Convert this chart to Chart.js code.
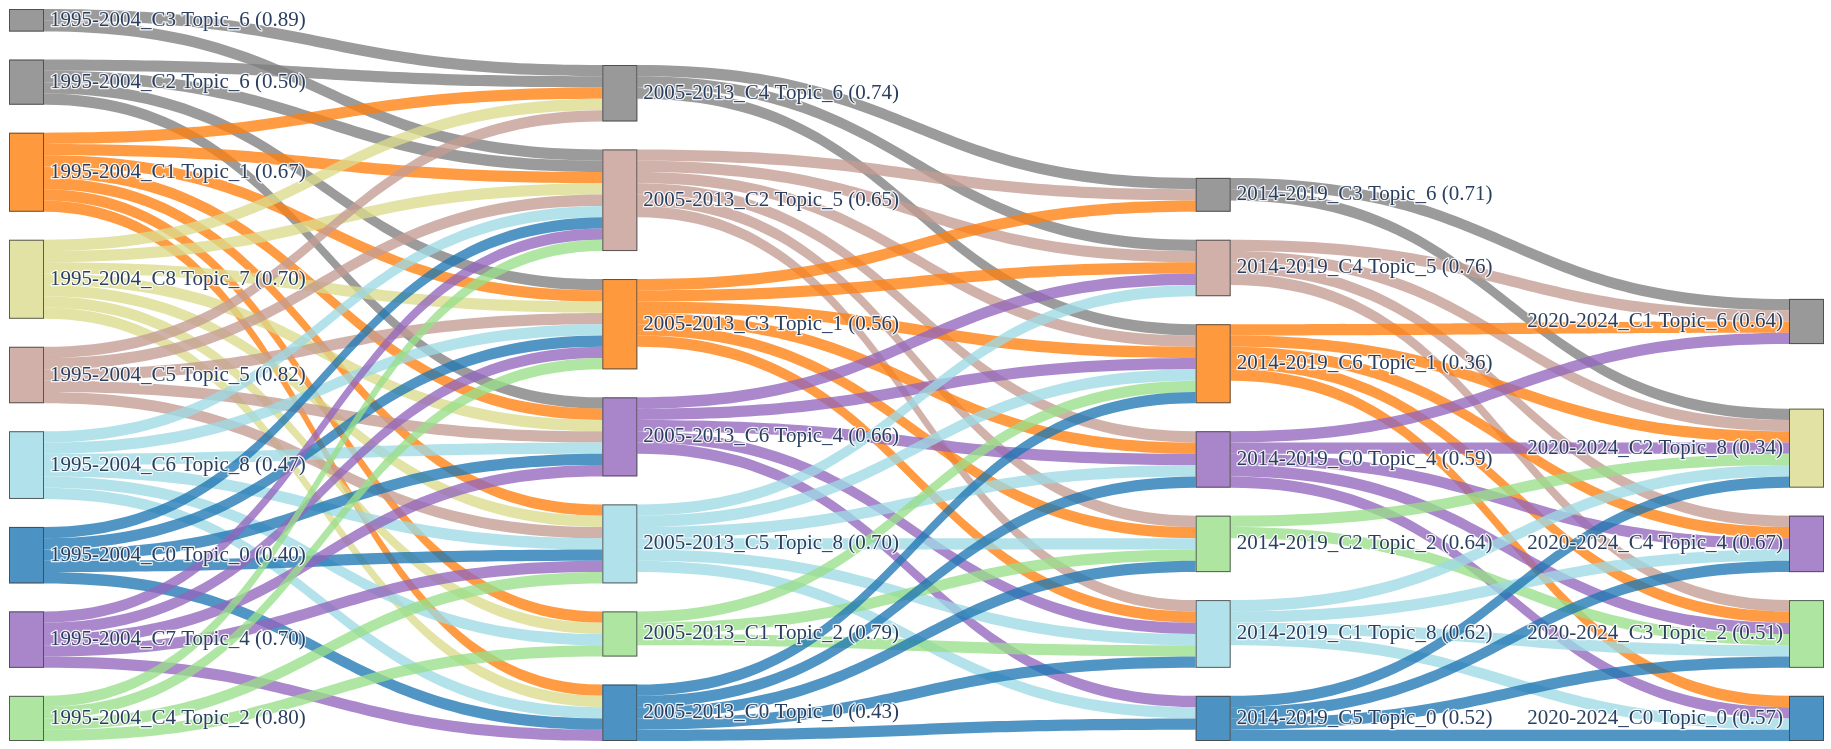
<!DOCTYPE html>
<html>
<head>
<meta charset="utf-8">
<title>Topic flow</title>
<script src="https://cdn.jsdelivr.net/npm/chart.js@4.4.1/dist/chart.umd.min.js"></script>
<style>
  html, body { margin: 0; padding: 0; background: #fff; }
  #wrap { width: 1831px; height: 749px; position: relative; }
</style>
</head>
<body>
<div id="wrap"><canvas id="sankey"></canvas></div>
<script>
// Periods (columns) and the clusters in each, top to bottom
const periods = ["1995-2004", "2005-2013", "2014-2019", "2020-2024"];
const clusters = [
  ["C3", "C2", "C1", "C8", "C5", "C6", "C0", "C7", "C4"],
  ["C4", "C2", "C3", "C6", "C5", "C1", "C0"],
  ["C3", "C4", "C6", "C0", "C2", "C1", "C5"],
  ["C1", "C2", "C4", "C3", "C0"],
];
const topics = [
  [6, 6, 1, 7, 5, 8, 0, 4, 2],
  [6, 5, 1, 4, 8, 2, 0],
  [6, 5, 1, 4, 2, 8, 0],
  [6, 8, 4, 2, 0],
];
const scores = [
  [0.89, 0.50, 0.67, 0.70, 0.82, 0.47, 0.40, 0.70, 0.80],
  [0.74, 0.65, 0.56, 0.66, 0.70, 0.79, 0.43],
  [0.71, 0.76, 0.36, 0.59, 0.64, 0.62, 0.52],
  [0.64, 0.34, 0.67, 0.51, 0.57],
];

// Links: [source cluster, target cluster, value]
const links1 = [ // 1995-2004 -> 2005-2013
  ["C3", "C4", 1], ["C3", "C2", 1],
  ["C2", "C4", 1], ["C2", "C2", 1], ["C2", "C3", 1], ["C2", "C6", 1],
  ["C1", "C4", 1], ["C1", "C2", 1], ["C1", "C3", 1], ["C1", "C6", 1], ["C1", "C5", 1], ["C1", "C1", 1], ["C1", "C0", 1],
  ["C8", "C4", 1], ["C8", "C2", 1], ["C8", "C3", 1], ["C8", "C6", 1], ["C8", "C5", 1], ["C8", "C1", 1], ["C8", "C0", 1],
  ["C5", "C4", 1], ["C5", "C2", 1], ["C5", "C3", 1], ["C5", "C6", 1], ["C5", "C5", 1],
  ["C6", "C2", 1], ["C6", "C3", 1], ["C6", "C6", 1], ["C6", "C5", 1], ["C6", "C1", 1], ["C6", "C0", 1],
  ["C0", "C2", 1], ["C0", "C3", 1], ["C0", "C6", 1], ["C0", "C5", 1], ["C0", "C0", 1],
  ["C7", "C2", 1], ["C7", "C3", 1], ["C7", "C6", 1], ["C7", "C5", 1], ["C7", "C0", 1],
  ["C4", "C2", 1], ["C4", "C3", 1], ["C4", "C5", 1], ["C4", "C1", 1],
];
const links2 = [ // 2005-2013 -> 2014-2019
  ["C4", "C3", 1], ["C4", "C4", 1], ["C4", "C6", 1],
  ["C2", "C3", 1], ["C2", "C4", 1], ["C2", "C6", 1], ["C2", "C0", 1], ["C2", "C2", 1], ["C2", "C1", 1],
  ["C3", "C3", 1], ["C3", "C4", 1], ["C3", "C6", 1], ["C3", "C0", 1], ["C3", "C2", 1], ["C3", "C1", 1],
  ["C6", "C4", 1], ["C6", "C6", 1], ["C6", "C0", 1], ["C6", "C1", 1], ["C6", "C5", 1],
  ["C5", "C4", 1], ["C5", "C6", 1], ["C5", "C0", 1], ["C5", "C2", 1], ["C5", "C1", 1], ["C5", "C5", 1],
  ["C1", "C6", 1], ["C1", "C2", 1], ["C1", "C1", 1],
  ["C0", "C6", 1], ["C0", "C0", 1], ["C0", "C2", 1], ["C0", "C1", 1], ["C0", "C5", 1],
];
const links3 = [ // 2014-2019 -> 2020-2024
  ["C3", "C1", 1], ["C3", "C2", 1],
  ["C4", "C1", 1], ["C4", "C2", 1], ["C4", "C4", 1], ["C4", "C3", 1],
  ["C6", "C1", 1], ["C6", "C2", 1], ["C6", "C4", 1], ["C6", "C3", 1], ["C6", "C0", 1],
  ["C0", "C1", 1], ["C0", "C2", 1], ["C0", "C4", 1], ["C0", "C3", 1], ["C0", "C0", 1],
  ["C2", "C2", 1], ["C2", "C3", 1],
  ["C1", "C2", 1], ["C1", "C4", 1], ["C1", "C3", 1], ["C1", "C0", 1],
  ["C5", "C2", 1], ["C5", "C4", 1], ["C5", "C3", 1], ["C5", "C0", 1],
];
const stageLinks = [links1, links2, links3];

// Styles
const palette = {
  gray: "127,127,127", orange: "255,127,14", khaki: "219,219,141", pink: "196,156,148",
  lightblue: "158,218,229", blue: "31,119,180", purple: "148,103,189", green: "152,223,138",
};
const nodeColors = [
  ["gray", "gray", "orange", "khaki", "pink", "lightblue", "blue", "purple", "green"],
  ["gray", "pink", "orange", "purple", "lightblue", "green", "blue"],
  ["gray", "pink", "orange", "purple", "green", "lightblue", "blue"],
  ["gray", "khaki", "purple", "green", "blue"],
];
const NODE_WIDTH = 35;   // px
const NODE_PAD = 2.48;   // gap between nodes, in flow units
const ITERATIONS = 32;
const FONT = '21px "Liberation Serif", "Times New Roman", serif';

function sum(arr, f) {
  return arr.reduce((s, d) => s + f(d), 0);
}

// Build nodes and links
function buildGraph() {
  const byCol = periods.map((p, c) =>
    clusters[c].map((cl, i) => ({
      col: c,
      idx: i,
      key: cl,
      label: p + "_" + cl + " Topic_" + topics[c][i] + " (" + scores[c][i].toFixed(2) + ")",
      rgb: palette[nodeColors[c][i]],
      inL: [],
      outL: [],
    }))
  );
  const links = [];
  stageLinks.forEach((list, s) => {
    list.forEach(([a, b, v]) => {
      const src = byCol[s].find((n) => n.key === a);
      const tgt = byCol[s + 1].find((n) => n.key === b);
      const l = { src: src, tgt: tgt, value: v };
      src.outL.push(l);
      tgt.inL.push(l);
      links.push(l);
    });
  });
  byCol.forEach((col) =>
    col.forEach((n) => {
      n.value = Math.max(sum(n.inL, (l) => l.value), sum(n.outL, (l) => l.value));
    })
  );
  return { byCol: byCol, links: links };
}

// d3-sankey style relaxation, keeping the given node order
function layoutGraph(g) {
  const cols = g.byCol;
  const extent = Math.max(...cols.map((c) => sum(c, (n) => n.value) + (c.length - 1) * NODE_PAD));
  const center = (n) => (n.y0 + n.y1) / 2;

  // push overlapping nodes down, then back up from the bottom edge
  function resolve(nodes) {
    let y = 0;
    nodes.forEach((n) => {
      const dy = y - n.y0;
      if (dy > 0) { n.y0 += dy; n.y1 += dy; }
      y = n.y1 + NODE_PAD;
    });
    let dy = y - NODE_PAD - extent;
    if (dy > 0) {
      const last = nodes[nodes.length - 1];
      last.y0 -= dy; last.y1 -= dy;
      y = last.y0;
      for (let i = nodes.length - 2; i >= 0; i--) {
        const n = nodes[i];
        dy = n.y1 + NODE_PAD - y;
        if (dy > 0) { n.y0 -= dy; n.y1 -= dy; }
        y = n.y0;
      }
    }
  }
  function relaxLeftToRight(alpha) {
    for (let c = 1; c < cols.length; c++) {
      cols[c].forEach((n) => {
        const y = sum(n.inL, (l) => center(l.src) * l.value) / sum(n.inL, (l) => l.value);
        const d = (y - center(n)) * alpha;
        n.y0 += d; n.y1 += d;
      });
      resolve(cols[c]);
    }
  }
  function relaxRightToLeft(alpha) {
    for (let c = cols.length - 2; c >= 0; c--) {
      cols[c].forEach((n) => {
        const y = sum(n.outL, (l) => center(l.tgt) * l.value) / sum(n.outL, (l) => l.value);
        const d = (y - center(n)) * alpha;
        n.y0 += d; n.y1 += d;
      });
      resolve(cols[c]);
    }
  }

  cols.forEach((nodes) => {
    nodes.forEach((n, i) => { n.y0 = i; n.y1 = i + n.value; });
    resolve(nodes);
  });
  let alpha = 1;
  for (let k = 0; k < ITERATIONS; k++) {
    alpha *= 0.99;
    relaxRightToLeft(alpha);
    relaxLeftToRight(alpha);
  }

  // link offsets inside each node, ordered by the other end
  cols.forEach((nodes) =>
    nodes.forEach((n) => {
      n.outL.sort((a, b) => a.tgt.y0 - b.tgt.y0);
      n.inL.sort((a, b) => a.src.y0 - b.src.y0);
      let sy = n.y0;
      n.outL.forEach((l) => { l.sy = sy; sy += l.value; });
      let ty = n.y0;
      n.inL.forEach((l) => { l.ty = ty; ty += l.value; });
    })
  );
  return extent;
}

const graph = buildGraph();
const yExtent = layoutGraph(graph);

// Plugin that draws links, nodes and labels through the chart scales
const sankeyPlugin = {
  id: "sankey",
  afterDatasetsDraw(chart) {
    const ctx = chart.ctx;
    const xs = chart.scales.x;
    const ys = chart.scales.y;
    const X = (c) => xs.getPixelForValue(c);
    const Y = (v) => ys.getPixelForValue(v);

    ctx.save();
    // links
    graph.links.forEach((l) => {
      const x0 = X(l.src.col) + NODE_WIDTH;
      const x1 = X(l.tgt.col);
      const xm = (x0 + x1) / 2;
      const a0 = Y(l.sy), a1 = Y(l.sy + l.value);
      const b0 = Y(l.ty), b1 = Y(l.ty + l.value);
      ctx.beginPath();
      ctx.moveTo(x0, a0);
      ctx.bezierCurveTo(xm, a0, xm, b0, x1, b0);
      ctx.lineTo(x1, b1);
      ctx.bezierCurveTo(xm, b1, xm, a1, x0, a1);
      ctx.closePath();
      ctx.fillStyle = "rgba(" + l.src.rgb + ",0.78)";
      ctx.fill();
    });

    // nodes
    graph.byCol.forEach((nodes) =>
      nodes.forEach((n) => {
        const x = X(n.col);
        const top = Y(n.y0);
        const h = Y(n.y1) - top;
        ctx.fillStyle = "rgba(" + n.rgb + ",0.8)";
        ctx.fillRect(x, top, NODE_WIDTH, h);
        ctx.strokeStyle = "rgba(68,68,68,0.85)";
        ctx.lineWidth = 1;
        ctx.strokeRect(x + 0.5, top + 0.5, NODE_WIDTH - 1, h - 1);
      })
    );

    // labels
    ctx.font = FONT;
    ctx.textBaseline = "middle";
    ctx.lineJoin = "round";
    const lastCol = periods.length - 1;
    graph.byCol.forEach((nodes) =>
      nodes.forEach((n) => {
        const cy = (Y(n.y0) + Y(n.y1)) / 2;
        let tx;
        if (n.col === lastCol) {
          ctx.textAlign = "right";
          tx = X(n.col) - 6;
        } else {
          ctx.textAlign = "left";
          tx = X(n.col) + NODE_WIDTH + 6;
        }
        ctx.strokeStyle = "rgba(255,255,255,0.85)";
        ctx.lineWidth = 2.5;
        ctx.strokeText(n.label, tx, cy);
        ctx.fillStyle = "#2a3f5f";
        ctx.fillText(n.label, tx, cy);
      })
    );
    ctx.restore();
  },
};

new Chart(document.getElementById("sankey"), {
  type: "scatter",
  data: { datasets: [] },
  options: {
    responsive: true,
    maintainAspectRatio: false,
    animation: false,
    layout: { padding: { left: 9, right: 42, top: 9, bottom: 8 } },
    scales: {
      x: { type: "linear", min: 0, max: periods.length - 1, display: false },
      y: { type: "linear", min: 0, max: yExtent, reverse: true, display: false },
    },
    plugins: { legend: { display: false }, tooltip: { enabled: false } },
  },
  plugins: [sankeyPlugin],
});
</script>
</body>
</html>
